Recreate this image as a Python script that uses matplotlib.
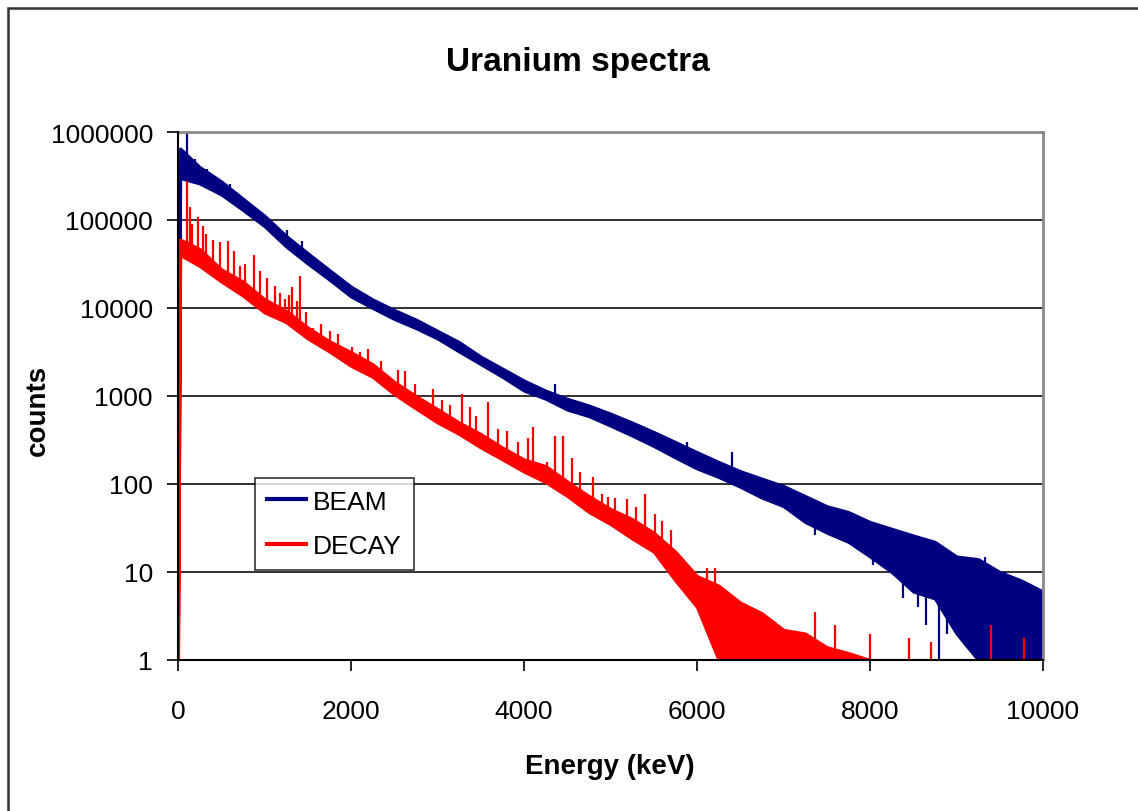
import numpy as np
import matplotlib.pyplot as plt
from matplotlib.patches import Rectangle
from matplotlib.ticker import FixedLocator, NullLocator, FuncFormatter

plt.rcParams['font.family'] = ['Liberation Sans', 'DejaVu Sans']

energy = [0, 25, 250, 500, 750, 1000, 1250, 1500, 1750, 2000, 2250, 2500,
          2750, 3000, 3250, 3500, 3750, 4000, 4250, 4500, 4750, 5000, 5250,
          5500, 5750, 6000, 6250, 6500, 6750, 7000, 7250, 7500, 7750, 8000,
          8250, 8500, 8750, 9000, 9250, 9500, 9750, 10000]

# BEAM spectrum: lower / upper edge of the noisy band (counts)
beam_lo = [8, 300000, 260000, 195000, 130000, 85000, 50000, 32000, 21000,
           13500, 10000, 7500, 5900, 4500, 3200, 2300, 1650, 1150, 930, 700,
           590, 460, 355, 270, 200, 150, 120, 93, 70, 56, 37, 28, 22, 15, 10,
           6, 5, 2, 1, 1, 1, 1]
beam_hi = [8, 650000, 400000, 275000, 175000, 112000, 66000, 42000, 27000,
           17500, 12500, 9500, 7400, 5500, 4100, 2800, 2050, 1500, 1150, 930,
           780, 630, 500, 390, 300, 230, 178, 140, 115, 95, 73, 56, 48, 37,
           31, 26, 22, 15, 14, 10, 8, 6]

# DECAY spectrum: lower / upper edge of the noisy band (counts)
decay_lo = [1, 40000, 30000, 20000, 13800, 8900, 6900, 4500, 3200, 2200,
            1650, 1050, 720, 500, 370, 260, 190, 138, 105, 73, 48, 35, 24,
            17, 8, 4, 1, 1, 1, 1, 1, 1, 1, 1, 1, 1, 1, 1, 1, 1, 1, 1]
decay_hi = [1, 60000, 47000, 27500, 20000, 12600, 9300, 6000, 4200, 3150,
            2300, 1450, 1000, 710, 500, 370, 260, 190, 160, 107, 73, 52, 40,
            28, 17, 9, 7, 4.5, 3.4, 2.2, 2.0, 1.4, 1.2, 1, 1, 1, 1, 1, 1, 1,
            1, 1]

# single-channel peaks standing above the bands
beam_peak_e = [104, 197, 335, 601, 694, 832, 1260, 1433, 1757, 4358, 5884,
               6400, 9330, 9560]
beam_peak = [1000000, 490000, 380000, 257000, 200000, 152000, 76000, 57000,
             26000, 1380, 300, 230, 15, 10]
beam_dip_e = [7364, 8035, 8380, 8560, 8650, 8800, 8890]
beam_dip = [26, 12, 5, 4, 2.5, 1, 2]

decay_peak_e = [104, 139, 160, 231, 289, 320, 400, 486, 578, 650, 717, 780,
                880, 950, 1029, 1121, 1180, 1237, 1280, 1318, 1370, 1410,
                1480, 1560, 1650, 1757, 1850, 2011, 2100, 2196, 2350, 2543,
                2624, 2740, 2948, 3050, 3150, 3283, 3376, 3450, 3584, 3700,
                3800, 3930, 4050, 4104, 4266, 4358, 4451, 4550, 4647, 4800,
                4901, 4971, 5050, 5190, 5300, 5398, 5514, 5600, 5700, 5953,
                6115, 6208, 7364, 7600, 8000, 8450, 8700, 9400, 9780]
decay_peak = [277000, 141000, 90000, 107000, 85000, 70000, 60000, 56000,
              58000, 45000, 30000, 32000, 40000, 26000, 22000, 18000, 15000,
              12600, 14000, 17400, 12000, 23000, 9000, 6000, 6500, 5500, 5000,
              3600, 3200, 3400, 2500, 2000, 1900, 1380, 1200, 900, 800, 1050,
              750, 600, 850, 420, 400, 300, 330, 445, 180, 350, 350, 200, 137,
              120, 77, 71, 70, 68, 55, 77, 46, 38, 30, 10, 11, 11, 3.5, 2.5, 2,
              1.8, 1.6, 2.5, 1.8]

x_ticks = [0, 2000, 4000, 6000, 8000, 10000]
y_ticks = [1, 10, 100, 1000, 10000, 100000, 1000000]

BEAM_C = '#000080'
DECAY_C = '#ff0000'


def band_at(e, edge):
  return 10 ** np.interp(e, energy, np.log10(edge))


fig = plt.figure(figsize=(11.38, 8.12), dpi=100)
ax = fig.add_axes([178 / 1138, 151 / 812, 865 / 1138, 528 / 812])

# BEAM first, DECAY on top of it
ax.fill_between(energy, beam_lo, beam_hi, color=BEAM_C, lw=2.2, zorder=2)
ax.vlines(beam_peak_e, band_at(beam_peak_e, beam_hi), beam_peak,
          color=BEAM_C, lw=1.6, zorder=2)
ax.vlines(beam_dip_e, beam_dip, band_at(beam_dip_e, beam_lo),
          color=BEAM_C, lw=1.6, zorder=2)
ax.plot([], [], color=BEAM_C, lw=3, label='BEAM')

ax.fill_between(energy, decay_lo, decay_hi, color=DECAY_C, lw=2.2, zorder=3)
ax.vlines(decay_peak_e, band_at(decay_peak_e, decay_hi), decay_peak,
          color=DECAY_C, lw=1.6, zorder=3)
ax.plot([], [], color=DECAY_C, lw=3, label='DECAY')

ax.set_yscale('log')
ax.set_xlim(0, 10000)
ax.set_ylim(1, 1000000)
ax.xaxis.set_major_locator(FixedLocator(x_ticks))
ax.yaxis.set_major_locator(FixedLocator(y_ticks))
ax.yaxis.set_minor_locator(NullLocator())
ax.yaxis.set_major_formatter(FuncFormatter(lambda v, p: '%d' % v))
ax.xaxis.set_major_formatter(FuncFormatter(lambda v, p: '%d' % v))
ax.tick_params(axis='both', direction='out', length=8, width=1.2,
               colors='black', labelsize=19)
ax.tick_params(axis='x', pad=20)
ax.tick_params(axis='y', pad=10)

ax.grid(True, axis='y', color='#222222', lw=1.3, zorder=1)
ax.set_axisbelow(True)
for s in ['top', 'right']:
  ax.spines[s].set_color('#888888')
  ax.spines[s].set_linewidth(2)
for s in ['left', 'bottom']:
  ax.spines[s].set_color('black')
  ax.spines[s].set_linewidth(1.5)
  ax.spines[s].set_zorder(5)

ax.set_xlabel('Energy (keV)', fontsize=20, fontweight='bold')
ax.xaxis.set_label_coords(0.4994, -0.20)
ax.xaxis.label.set_va('center')
ax.set_ylabel('counts', fontsize=20, fontweight='bold')
ax.yaxis.set_label_coords(-0.162, 0.475)
ax.yaxis.label.set_va('center')

fig.text(578 / 1138, 1 - 62 / 812, 'Uranium spectra', fontsize=24,
         fontweight='bold', ha='center', va='center')

leg = ax.legend(loc='upper left', bbox_to_anchor=(0.089, 0.345),
                fontsize=19, frameon=True, fancybox=False, borderaxespad=0,
                handlelength=1.5, handletextpad=0.25, borderpad=0.45,
                labelspacing=0.78)
leg.get_frame().set_edgecolor('black')
leg.get_frame().set_linewidth(1.2)
leg.set_zorder(6)

# outer chart border (runs off the right and bottom of the picture)
fig.add_artist(Rectangle((8 / 1138, -0.1), 1.2, 1.1 - 9 / 812,
                         transform=fig.transFigure, fill=False,
                         edgecolor='#333333', lw=1.8))

fig.savefig('out.png', dpi=100)
